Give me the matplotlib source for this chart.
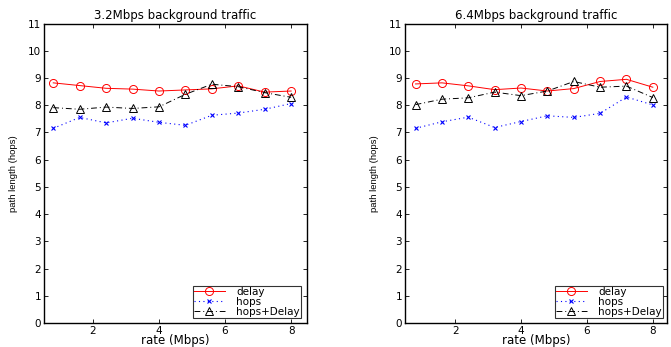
import matplotlib.pyplot as plt

rate = [0.8, 1.6, 2.4, 3.2, 4.0, 4.8, 5.6, 6.4, 7.2, 8.0]

# 3.2 Mbps background traffic
delay_32 = [8.82, 8.72, 8.62, 8.59, 8.52, 8.56, 8.60, 8.71, 8.48, 8.52]
hops_32 = [7.15, 7.55, 7.35, 7.52, 7.37, 7.26, 7.63, 7.71, 7.85, 8.06]
both_32 = [7.91, 7.85, 7.93, 7.88, 7.94, 8.40, 8.77, 8.68, 8.46, 8.29]

# 6.4 Mbps background traffic
delay_64 = [8.78, 8.82, 8.71, 8.57, 8.63, 8.52, 8.61, 8.87, 8.95, 8.66]
hops_64 = [7.15, 7.39, 7.56, 7.18, 7.40, 7.61, 7.55, 7.70, 8.30, 8.01]
both_64 = [8.02, 8.22, 8.27, 8.48, 8.35, 8.52, 8.87, 8.66, 8.70, 8.28]

titles = ["3.2Mbps background traffic", "6.4Mbps background traffic"]
xticks = [2, 4, 6, 8]
yticks = list(range(0, 12))

plt.rcParams["font.family"] = ["DejaVu Sans"]

W, H = 671, 347
fig = plt.figure(figsize=(W / 100, H / 100), dpi=100)
axes = [
    fig.add_axes([44 / W, 24 / H, 263 / W, 299.5 / H]),
    fig.add_axes([405 / W, 24 / H, 262 / W, 299.5 / H]),
]

series = [(delay_32, hops_32, both_32), (delay_64, hops_64, both_64)]
xlims = [(0.52, 8.48), (0.48, 8.43)]
leg_anchor = [(0.977, 0.017), (0.985, 0.017)]

for ax, (d, h, b), title, xl, anc in zip(axes, series, titles, xlims, leg_anchor):
    ax.plot(rate, d, color="red", lw=0.7, marker="o", ms=5.8, mfc="none",
            mec="red", mew=0.7, label="delay")
    ax.plot(rate, h, color="blue", lw=0.8, ls=(0, (1, 3)), marker="x", ms=3.5,
            mew=0.8, label="hops")
    ax.plot(rate, b, color="black", lw=0.7, ls=(0, (6, 3, 1, 3)), marker="^",
            ms=6, mfc="none", mec="black", mew=0.7, label="hops+Delay")
    ax.set_xlim(*xl)
    ax.set_ylim(0, 11)
    ax.set_xticks(xticks)
    ax.set_yticks(yticks)
    ax.tick_params(direction="in", top=True, right=True, labelsize=7.5,
                   length=3, width=0.6, pad=2)
    for s in ax.spines.values():
        s.set_linewidth(1.0)
    ax.set_title(title, fontsize=8.5, pad=3)
    ax.set_xlabel("rate (Mbps)", fontsize=8.5, labelpad=-1)
    ax.set_ylabel("path length (hops)", fontsize=6.8, family="Liberation Sans",
                  labelpad=7)
    leg = ax.legend(loc="lower right", bbox_to_anchor=anc, fontsize=7.5,
                    frameon=True, fancybox=False, edgecolor="black",
                    borderpad=0.1, labelspacing=0.0, handlelength=3.0,
                    handletextpad=1.1, borderaxespad=0)
    leg.get_frame().set_linewidth(0.8)

fig.savefig("out.png", dpi=100)
